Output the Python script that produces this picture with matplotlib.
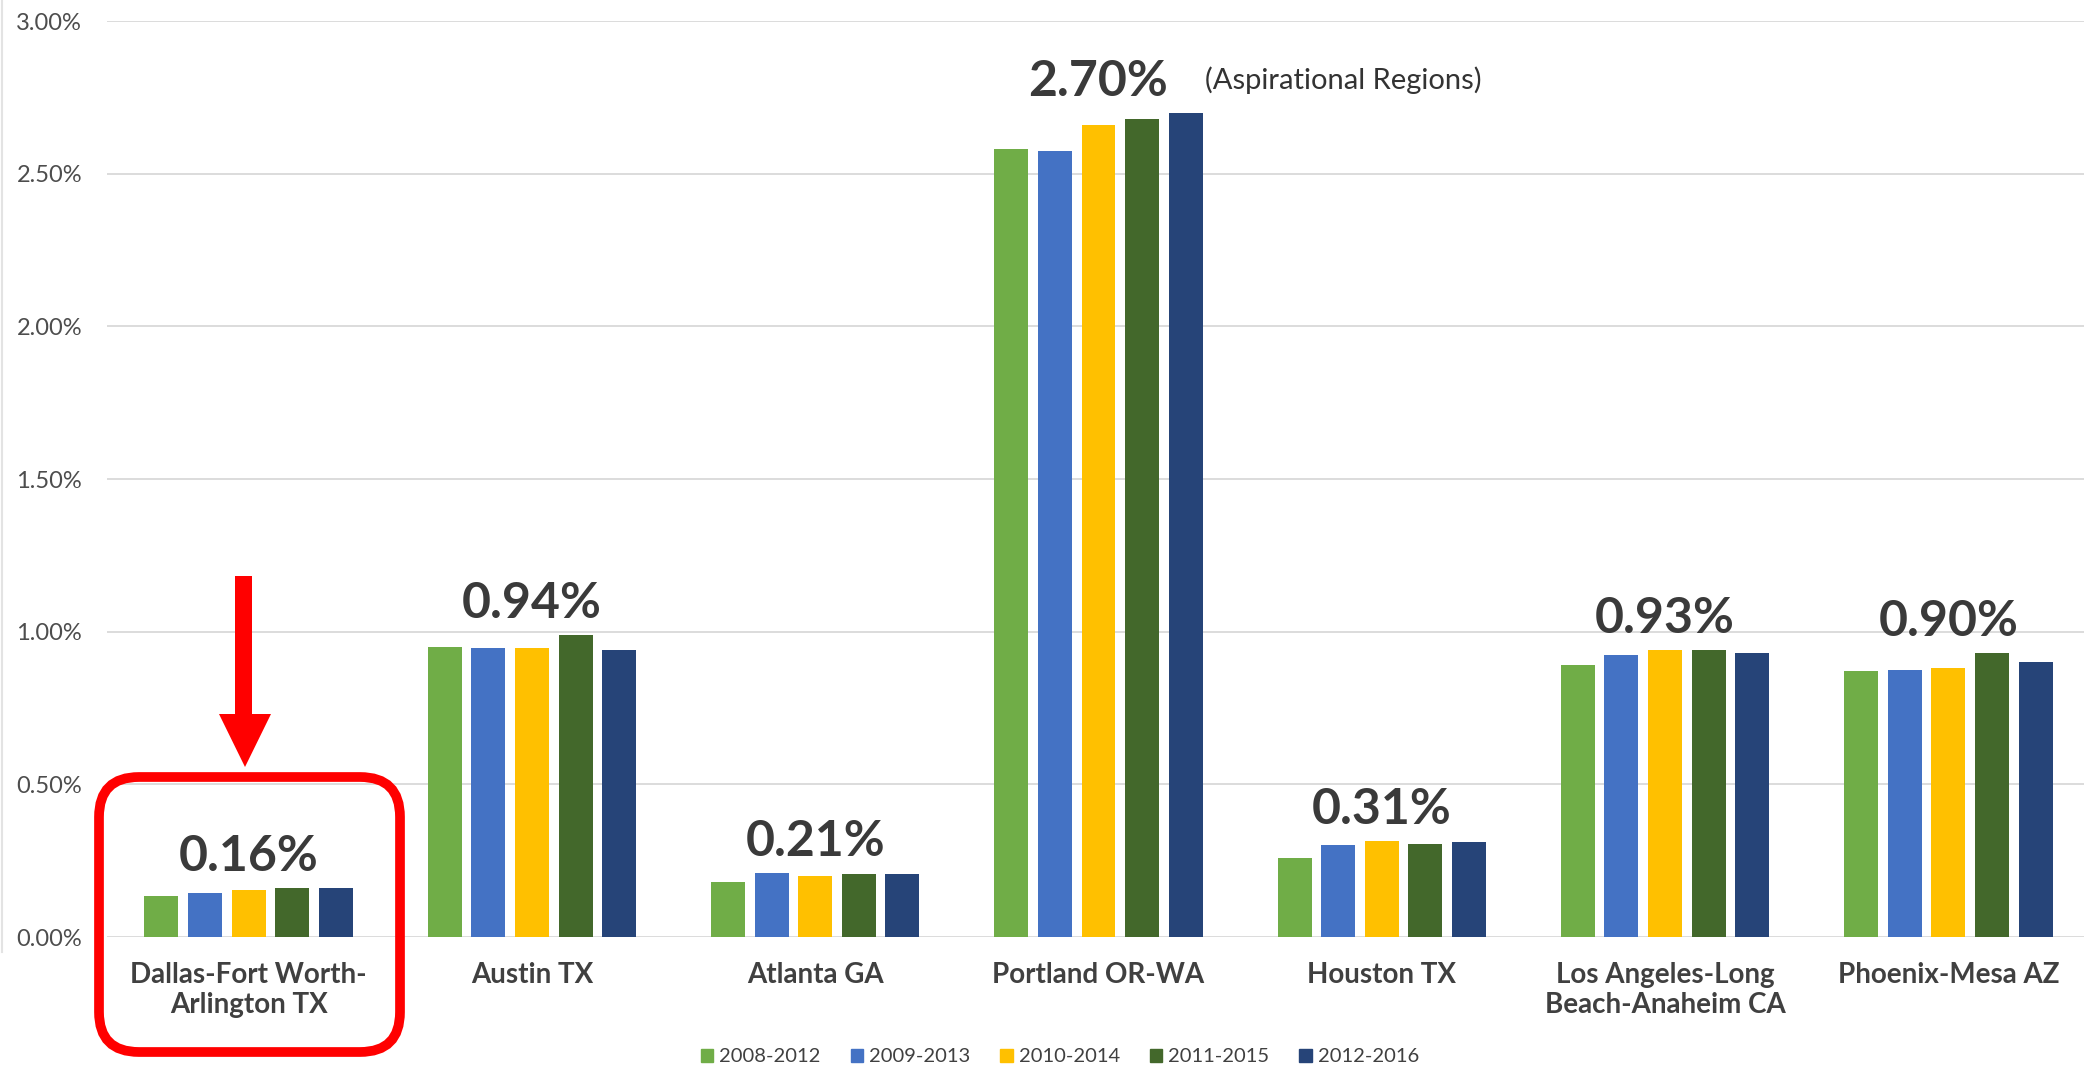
import numpy as np
import matplotlib
matplotlib.use('Agg')
import matplotlib.pyplot as plt
from matplotlib.patches import FancyBboxPatch, Polygon, Patch
from matplotlib.transforms import IdentityTransform
from matplotlib.ticker import FuncFormatter

plt.rcParams['font.family'] = ['Lato', 'DejaVu Sans']

regions = ['Dallas-Fort Worth-\nArlington TX', 'Austin TX', 'Atlanta GA', 'Portland OR-WA',
           'Houston TX', 'Los Angeles-Long\nBeach-Anaheim CA', 'Phoenix-Mesa AZ']
periods = ['2008-2012', '2009-2013', '2010-2014', '2011-2015', '2012-2016']
# percent values, one list per period
v_2008_2012 = [0.135, 0.95, 0.18, 2.58, 0.26, 0.89, 0.87]
v_2009_2013 = [0.145, 0.945, 0.21, 2.575, 0.30, 0.925, 0.875]
v_2010_2014 = [0.155, 0.945, 0.20, 2.66, 0.315, 0.94, 0.88]
v_2011_2015 = [0.16, 0.99, 0.205, 2.68, 0.305, 0.94, 0.93]
v_2012_2016 = [0.16, 0.94, 0.205, 2.70, 0.31, 0.93, 0.90]
top_labels = ['0.16%', '0.94%', '0.21%', '2.70%', '0.31%', '0.93%', '0.90%']
colors = ['#70AD47', '#4472C4', '#FFC000', '#43682B', '#264478']

series = [v_2008_2012, v_2009_2013, v_2010_2014, v_2011_2015, v_2012_2016]

W, H = 2084, 1067
fig = plt.figure(figsize=(W / 100, H / 100), dpi=100)
ax = fig.add_axes([107 / W, 130 / H, 1983 / W, 916 / H])

x = np.arange(len(regions))
step, bw = 0.154, 0.12
for i, (vals, c, lab) in enumerate(zip(series, colors, periods)):
    ax.bar(x + (i - 2) * step, vals, width=bw, color=c, label=lab, zorder=3)

data = np.array(series)
for xi, top, txt in zip(x, data.max(axis=0), top_labels):
    ax.annotate(txt, (xi, top), xytext=(0, 12), textcoords='offset points',
                ha='center', va='baseline', fontsize=36, fontweight='bold', color='#3a3a3a')

ax.set_xlim(-0.5, len(regions) - 0.5)
ax.set_ylim(0, 3.0)
ax.set_yticks(np.arange(0, 3.01, 0.5))
ax.yaxis.set_major_formatter(FuncFormatter(lambda v, p: f'{v:.2f}%'))
ax.set_xticks(x)
ax.set_xticklabels(regions, fontsize=20, fontweight='bold', color='#404040', linespacing=1.2)
ax.tick_params(axis='x', length=0, pad=18)
ax.tick_params(axis='y', length=0, pad=18, labelsize=17, labelcolor='#4d4d4d')
ax.grid(axis='y', color='#d9d9d9', lw=1.3, zorder=0)
for s in ax.spines.values():
    s.set_visible(False)

fig.text(1205 / W, 1 - 80 / H, '(Aspirational Regions)', fontsize=21, color='#333333',
         ha='left', va='center')

handles = [Patch(color=c, label=p) for c, p in zip(colors, periods)]
fig.legend(handles=handles, loc='center', bbox_to_anchor=(1060 / W, 1 - 1057 / H), ncol=5,
           frameon=False, fontsize=14.5, handlelength=0.6, handleheight=0.6,
           handletextpad=0.3, columnspacing=1.5, labelcolor='#404040')

# red highlight box and arrow around the first region
box = FancyBboxPatch((99, 15), 301, 275, boxstyle='round,pad=0,rounding_size=40',
                     fill=False, ec='#ff0000', lw=7, transform=IdentityTransform())
fig.add_artist(box)
arrow = Polygon([(235, 491), (252, 491), (252, 353), (271, 353), (245, 300),
                 (219, 353), (235, 353)], closed=True, fc='#ff0000', ec='none',
                transform=IdentityTransform())
fig.add_artist(arrow)

fig.add_artist(plt.Line2D([1.5, 1.5], [115, H], color='#e3e3e3', lw=1.5,
                          transform=IdentityTransform()))

fig.savefig('out.png', dpi=100, facecolor='white')
